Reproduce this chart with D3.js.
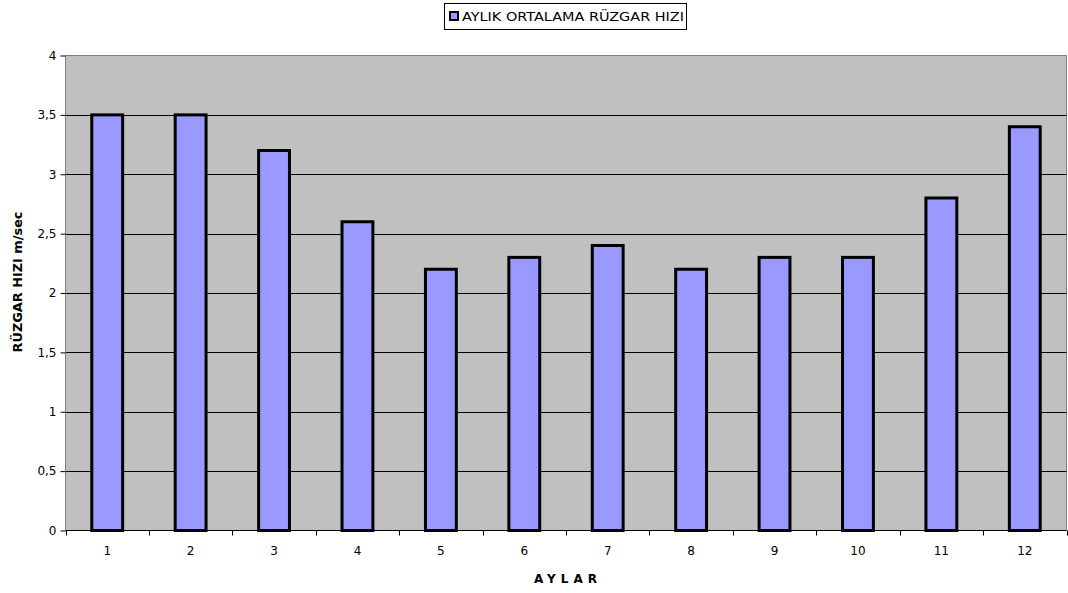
<!DOCTYPE html>
<html>
<head>
<meta charset="utf-8">
<script src="https://cdn.jsdelivr.net/npm/d3@7"></script>
<style>
  html, body { margin: 0; padding: 0; background: #ffffff; }
  svg { display: block; font-family: "DejaVu Sans", Arial, sans-serif; }
</style>
</head>
<body>
<svg id="chart" width="1068" height="593"></svg>
<script>
// Monthly average wind speed (m/sec)
const months = ["1", "2", "3", "4", "5", "6", "7", "8", "9", "10", "11", "12"];
const windSpeed = [3.5, 3.5, 3.2, 2.6, 2.2, 2.3, 2.4, 2.2, 2.3, 2.3, 2.8, 3.4];
const yTicks = [0, 0.5, 1, 1.5, 2, 2.5, 3, 3.5, 4];
const seriesName = "AYLIK ORTALAMA RÜZGAR HIZI";
const yTitle = "RÜZGAR HIZI m/sec";
const xTitle = "AYLAR";

const FONT = "DejaVu Sans, Arial, sans-serif";
const svg = d3.select("#chart");
const plot = { left: 65.5, right: 1066.5, top: 55.5, bottom: 530.5 };

const x = d3.scaleBand().domain(months).range([plot.left, plot.right]).padding(0);
const y = d3.scaleLinear().domain([0, 4]).range([plot.bottom, plot.top]);
const fmt = v => String(v).replace(".", ",");

// plot background
svg.append("rect")
  .attr("x", plot.left).attr("y", plot.top)
  .attr("width", plot.right - plot.left).attr("height", plot.bottom - plot.top)
  .attr("fill", "#c0c0c0").attr("stroke", "#808080").attr("stroke-width", 1);

// horizontal gridlines
svg.append("g").selectAll("line")
  .data(yTicks.filter(t => t > 0 && t < 4))
  .join("line")
  .attr("x1", plot.left).attr("x2", plot.right)
  .attr("y1", d => Math.round(y(d)) + 0.5).attr("y2", d => Math.round(y(d)) + 0.5)
  .attr("stroke", "#000").attr("stroke-width", 1);

// bars
const barW = x.bandwidth() * 0.37;
svg.append("g").selectAll("rect")
  .data(windSpeed)
  .join("rect")
  .attr("x", (d, i) => x(months[i]) + x.bandwidth() / 2 - barW / 2)
  .attr("y", d => y(d))
  .attr("width", barW)
  .attr("height", d => y(0) - y(d))
  .attr("fill", "#9999ff")
  .attr("stroke", "#000")
  .attr("stroke-width", 3);

// y axis
const yAxis = d3.axisLeft(y).tickValues(yTicks).tickSize(5).tickPadding(4).tickFormat(fmt);
const gy = svg.append("g").attr("transform", `translate(${plot.left},0)`).call(yAxis);
gy.select(".domain").attr("stroke", "#808080").attr("d", `M0,${plot.top}V${plot.bottom}`);
gy.selectAll(".tick line").attr("stroke", "#000");
gy.selectAll(".tick text").attr("font-size", 12).attr("fill", "#000")
  .attr("font-family", FONT);

// x axis with tick marks at category boundaries
const xAxis = d3.axisBottom(x).tickSize(0).tickPadding(16);
const gx = svg.append("g").attr("transform", `translate(0,${plot.bottom})`).call(xAxis);
gx.select(".domain").attr("stroke", "#000").attr("d", `M${plot.left},0H${plot.right}`);
gx.selectAll(".tick text").attr("font-size", 12).attr("fill", "#000")
  .attr("font-family", FONT);
gx.append("g").selectAll("line")
  .data(months.map(m => x(m)).concat([plot.right]))
  .join("line")
  .attr("x1", d => Math.round(d) + 0.5).attr("x2", d => Math.round(d) + 0.5)
  .attr("y1", 0).attr("y2", 5)
  .attr("stroke", "#000");

// axis titles
svg.append("text")
  .attr("transform", `translate(22,282) rotate(-90)`)
  .attr("text-anchor", "middle")
  .attr("font-size", 12).attr("font-weight", "bold")
  .attr("textLength", 141).attr("lengthAdjust", "spacingAndGlyphs")
  .text(yTitle);

svg.append("text")
  .attr("x", 568).attr("y", 583)
  .attr("text-anchor", "middle")
  .attr("font-size", 12).attr("font-weight", "bold")
  .attr("letter-spacing", 5)
  .text(xTitle);

// legend
const lg = svg.append("g");
lg.append("rect").attr("x", 444.5).attr("y", 3.5).attr("width", 242).attr("height", 26)
  .attr("fill", "#fff").attr("stroke", "#000");
lg.append("rect").attr("x", 450).attr("y", 12).attr("width", 8).attr("height", 8)
  .attr("fill", "#9999ff").attr("stroke", "#000").attr("stroke-width", 2);
lg.append("text").attr("x", 462).attr("y", 21)
  .attr("font-size", 12.5).attr("fill", "#000")
  .attr("textLength", 222).attr("lengthAdjust", "spacingAndGlyphs")
  .text(seriesName);
</script>
</body>
</html>
